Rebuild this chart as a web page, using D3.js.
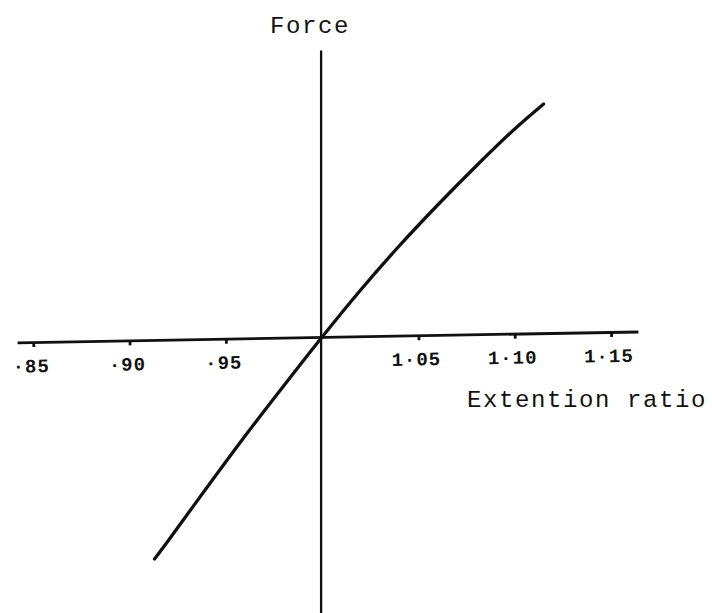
<!DOCTYPE html>
<html>
<head>
<meta charset="utf-8">
<script src="https://cdn.jsdelivr.net/npm/d3@7"></script>
<style>
  html, body { margin: 0; padding: 0; background: #fff; }
  svg { display: block; }
  .lbl { font-family: "Liberation Mono", "Courier New", monospace; fill: #111; }
</style>
</head>
<body>
<svg id="chart" width="712" height="613"></svg>
<script>
// Data (force in arbitrary units)
const extensionRatio = [0.913, 0.92, 0.94, 0.96, 0.98, 1.00, 1.02, 1.04, 1.06, 1.08, 1.10, 1.115];
const forceValues    = [-2.22, -2.04, -1.51, -0.99, -0.49, 0, 0.47, 0.91, 1.32, 1.71, 2.08, 2.33];
const tickValues = [0.85, 0.90, 0.95, 1.05, 1.10, 1.15];
const tickLabels = ["·85", "·90", "·95", "1·05", "1·10", "1·15"];
const xTitle = "Extention ratio";
const yTitle = "Force";

const svg = d3.select("#chart");
const x = d3.scaleLinear().domain([0.8416, 1.164]).range([17, 638]);
const y = d3.scaleLinear().domain([-2.76, 2.87]).range([613, 50]);
const ink = "#111";

// Horizontal axis (slightly tilted, as in the typed original)
const xAxis = d3.axisBottom(x)
  .tickValues(tickValues)
  .tickFormat((d, i) => tickLabels[i])
  .tickSizeInner(5)
  .tickSizeOuter(0)
  .tickPadding(10);

const gx = svg.append("g")
  .attr("transform", `rotate(-1, ${x(1)}, ${y(0)}) translate(0, ${y(0)})`)
  .call(xAxis);
gx.select(".domain").attr("stroke", ink).attr("stroke-width", 2.8);
gx.selectAll(".tick line").attr("stroke", ink).attr("stroke-width", 2.8);
gx.selectAll(".tick text")
  .attr("class", "lbl")
  .attr("font-size", 19)
  .attr("font-weight", "bold")
  .attr("letter-spacing", 1)
  .attr("dx", -3)
  .attr("dy", "0.8em")
  .attr("fill", ink);

// Vertical axis (no ticks)
const yAxis = d3.axisLeft(y).tickValues([]).tickSizeOuter(0);
const gy = svg.append("g")
  .attr("transform", `translate(${x(1) - 1.5}, 0)`)
  .call(yAxis);
gy.select(".domain").attr("stroke", ink).attr("stroke-width", 2.3);

// Curve
const line = d3.line()
  .x((d, i) => x(extensionRatio[i]))
  .y(d => y(d))
  .curve(d3.curveCatmullRom.alpha(0.5));
svg.append("path")
  .datum(forceValues)
  .attr("d", line)
  .attr("fill", "none")
  .attr("stroke", ink)
  .attr("stroke-width", 3.3)
  .attr("stroke-linecap", "round");

// Titles
svg.append("text").attr("class", "lbl")
  .attr("x", 270).attr("y", 33)
  .attr("font-size", 24).attr("letter-spacing", 1.6)
  .text(yTitle);
svg.append("text").attr("class", "lbl")
  .attr("x", 467).attr("y", 407)
  .attr("font-size", 24).attr("letter-spacing", 1.6)
  .text(xTitle);
</script>
</body>
</html>
